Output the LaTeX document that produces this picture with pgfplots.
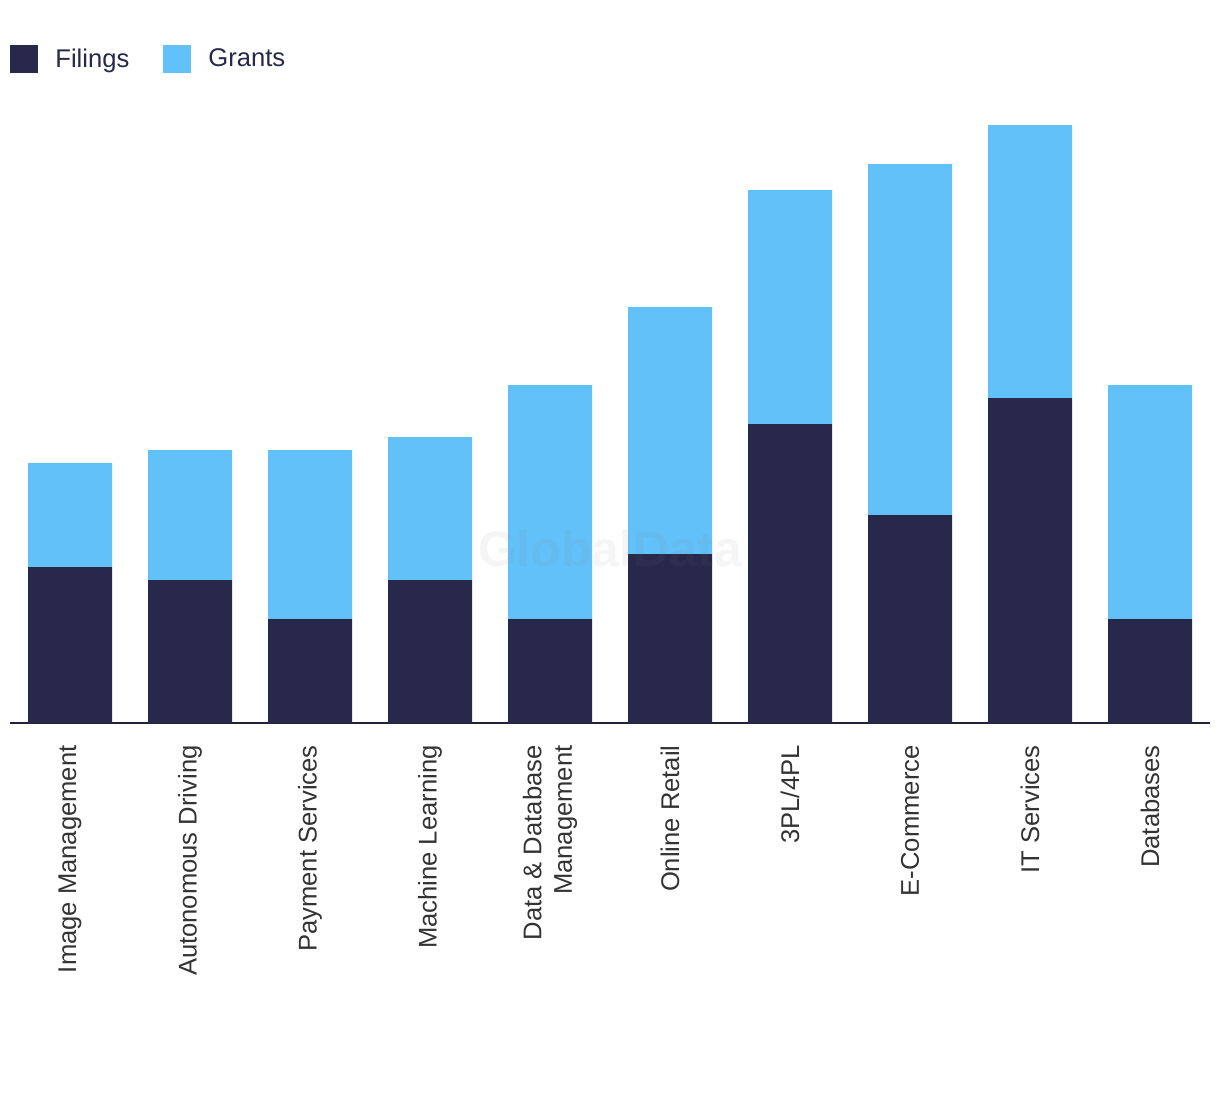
\documentclass[border=0pt]{standalone}
\usepackage{pgfplots}
\pgfplotsset{compat=1.18}
\usepackage{fontspec}
\setmainfont{Liberation Sans}
\definecolor{navy}{HTML}{27284A}
\definecolor{sky}{HTML}{62C1F9}
\definecolor{lbl}{HTML}{333333}
\begin{document}
\begin{tikzpicture}
\path[use as bounding box] (0,0) rectangle (610pt,547pt);
\begin{axis}[
  at={(5pt,185.5pt)}, anchor=south west,
  scale only axis, width=600pt, height=325pt,
  ybar stacked, bar width=42pt,
  xmin=-0.5, xmax=9.5, ymin=0, ymax=50,
  axis y line=none, axis x line*=bottom,
  x axis line style={draw=navy!80!black, line width=1pt, -},
  xtick=data, major tick length=0pt,
  xticklabels={Image Management, Autonomous Driving, Payment Services, Machine Learning, {Data \& Database\\Management}, Online Retail, 3PL/4PL, E-Commerce, IT Services, Databases},
  xticklabel style={yshift=-11pt, rotate=90, anchor=east, align=right, font=\fontsize{12.8pt}{15.3pt}\selectfont, text=lbl, inner sep=0pt},
  legend style={at={(axis description cs:0,1.0445)}, anchor=north west, draw=none, inner xsep=0pt, inner ysep=0pt, font=\fontsize{12.8pt}{15pt}\selectfont, text=navy, /tikz/every even column/.append style={column sep=15pt}},
  legend columns=2,
  legend image code/.code={\fill[#1] (0pt,-7pt) rectangle (14pt,7pt);},
  legend cell align=left,
  after end axis/.code={\node[text=gray, opacity=0.08, font=\bfseries\fontsize{25pt}{30pt}\selectfont] at (axis cs:4.5,13.4) {GlobalData};},
]
\addplot[fill=navy, draw=none] coordinates {(0,12) (1,11) (2,8) (3,11) (4,8) (5,13) (6,23) (7,16) (8,25) (9,8)};
\addplot[fill=sky, draw=none] coordinates {(0,8) (1,10) (2,13) (3,11) (4,18) (5,19) (6,18) (7,27) (8,21) (9,18)};
\legend{\hspace{6.5pt}Filings, \hspace{6.5pt}Grants}
\end{axis}
\end{tikzpicture}
\end{document}
